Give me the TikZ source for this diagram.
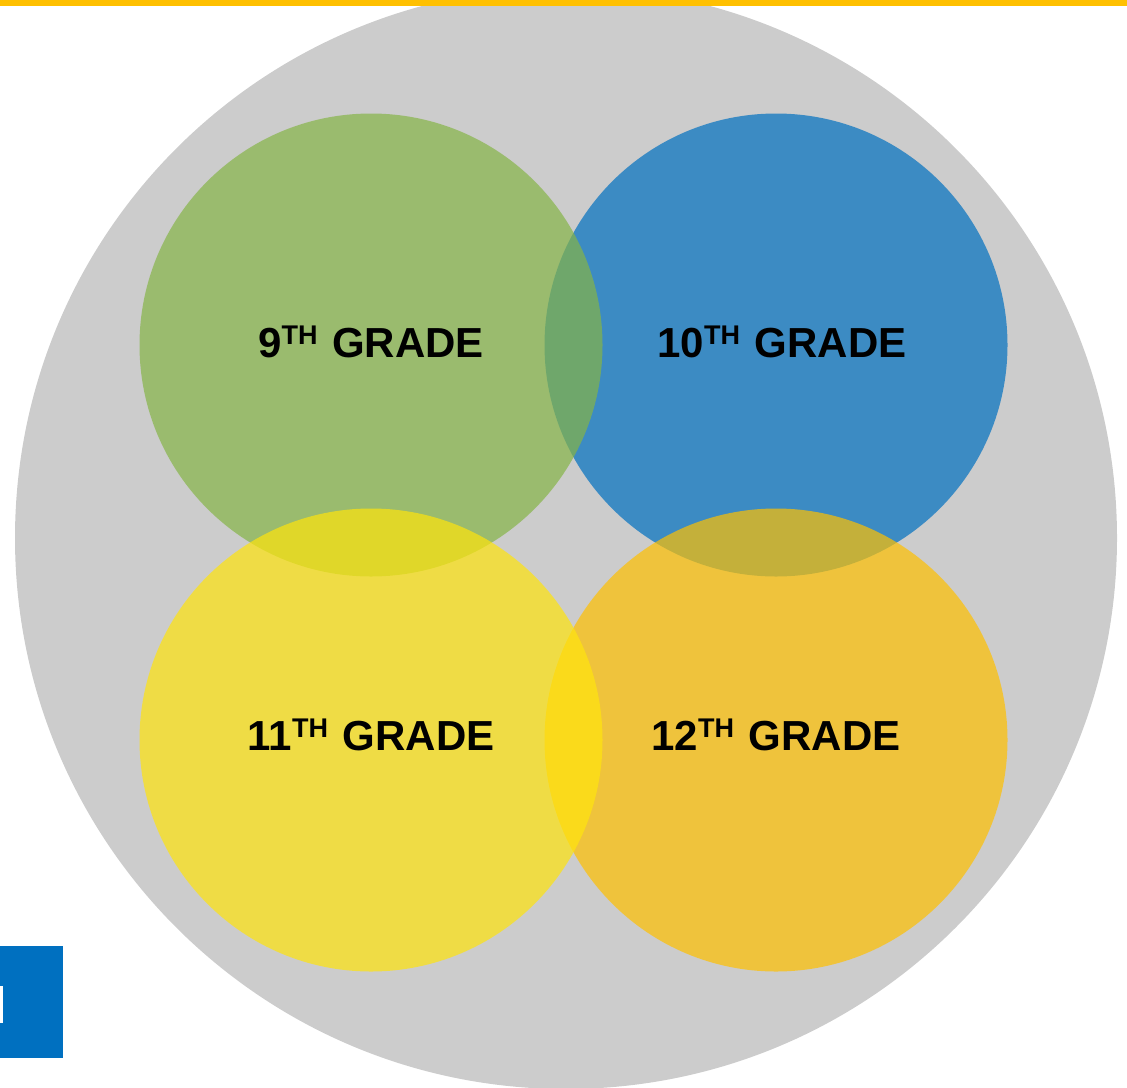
\documentclass[tikz,border=0pt]{standalone}
\usepackage{fontspec}
\setmainfont{Liberation Sans}

\definecolor{ringgray}{HTML}{CCCCCC}
\definecolor{topbar}{HTML}{FFC000}
\definecolor{tabblue}{HTML}{0070C0}
\definecolor{gradegreen}{RGB}{134,180,71}
\definecolor{gradeblue}{RGB}{0,112,192}
\definecolor{gradeyellow}{RGB}{255,228,13}
\definecolor{gradeorange}{RGB}{255,192,0}

\newcommand{\gradelabel}[1]{#1\raisebox{12.7pt}{\fontsize{27}{27}\selectfont TH}\hspace{3pt} GRADE}

\begin{document}
\begin{tikzpicture}[
        x=1pt, y=-1pt,
        grade/.style={font=\fontsize{42}{42}\selectfont\bfseries,
                      anchor=base, inner sep=0pt},
    ]
    \useasboundingbox (0,0) rectangle (1127,1087);

    \fill[ringgray] (566,538) circle (551pt);

    % blue and orange first, green and yellow over them
    \foreach \col/\px/\py in {gradeblue/776/345, gradegreen/371/345,
                              gradeorange/776/740, gradeyellow/371/740}
        \fill[\col, opacity=0.7] (\px,\py) circle (231.5pt);

    \node[grade] (g9)  at (371,357) {\gradelabel{9}};
    \node[grade] (g10) at (782,357) {\gradelabel{10}};
    \node[grade] (g11) at (371,750) {\gradelabel{11}};
    \node[grade] (g12) at (776,750) {\gradelabel{12}};

    \fill[topbar] (0,0) rectangle (1127,5.5);

    \fill[tabblue] (0,946) rectangle (63,1058);
    \fill[white] (0,986) rectangle (2.5,1023);
    \end{tikzpicture}
\end{document}
